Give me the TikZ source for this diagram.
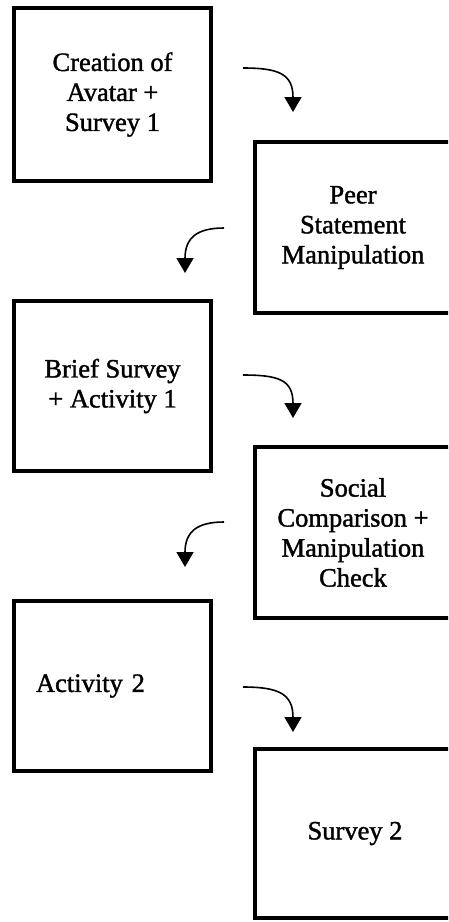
\documentclass[tikz,border=0pt]{standalone}
\usepackage{fontspec}
\setmainfont{Liberation Serif}
\newfontfamily\boxfont[FakeBold=1.4]{Liberation Serif}
\usetikzlibrary{arrows.meta}
\begin{document}
\begin{tikzpicture}[x=1pt,y=-1pt,
  stagebox/.style={draw=black, line width=4pt, rectangle, align=center,
    inner sep=0pt, font=\boxfont\fontsize{26.5}{30}\selectfont},
  flowarrow/.style={line width=1.6pt, -{Triangle[width=17pt,length=15pt]}}]
\clip (0,0) rectangle (448,922);
\fill[white] (0,0) rectangle (448,922);
% left column
\node[stagebox, minimum width=197pt, minimum height=173pt] (b1) at (112.5,94.5) {Creation of\\Avatar +\\Survey 1};
\node[stagebox, minimum width=197pt, minimum height=170pt] (b3) at (112.5,386) {Brief Survey\\+ Activity 1};
\node[stagebox, minimum width=197pt, minimum height=170pt, text width=153pt, align=left, inner xsep=22pt] (b5) at (112.5,686) {Activity 2};
% right column
\node[stagebox, minimum width=196pt, minimum height=171pt] (b2) at (353,227.5) {Peer\\Statement\\Manipulation};
\node[stagebox, minimum width=196pt, minimum height=171pt] (b4) at (353,532.5) {Social\\Comparison +\\Manipulation\\Check};
\node[stagebox, minimum width=200pt, minimum height=169pt] (b6) at (355,833.5) {Survey 2};
% arrow anchors
\coordinate (a1s) at (243,68);  \coordinate (a1e) at (293,112);
\coordinate (a2s) at (224,228); \coordinate (a2e) at (185,273);
\coordinate (a3s) at (243,375); \coordinate (a3e) at (293,418);
\coordinate (a4s) at (224,522); \coordinate (a4e) at (185,567);
\coordinate (a5s) at (243,687); \coordinate (a5e) at (293,732);
\draw[flowarrow] (a1s) .. controls ([xshift=36pt]a1s) and ([yshift=38pt]a1e) .. (a1e);
\draw[flowarrow] (a3s) .. controls ([xshift=36pt]a3s) and ([yshift=38pt]a3e) .. (a3e);
\draw[flowarrow] (a5s) .. controls ([xshift=36pt]a5s) and ([yshift=38pt]a5e) .. (a5e);
\draw[flowarrow] (a2s) .. controls ([xshift=-26pt]a2s) and ([yshift=36pt]a2e) .. (a2e);
\draw[flowarrow] (a4s) .. controls ([xshift=-26pt]a4s) and ([yshift=36pt]a4e) .. (a4e);
\end{tikzpicture}
\end{document}
